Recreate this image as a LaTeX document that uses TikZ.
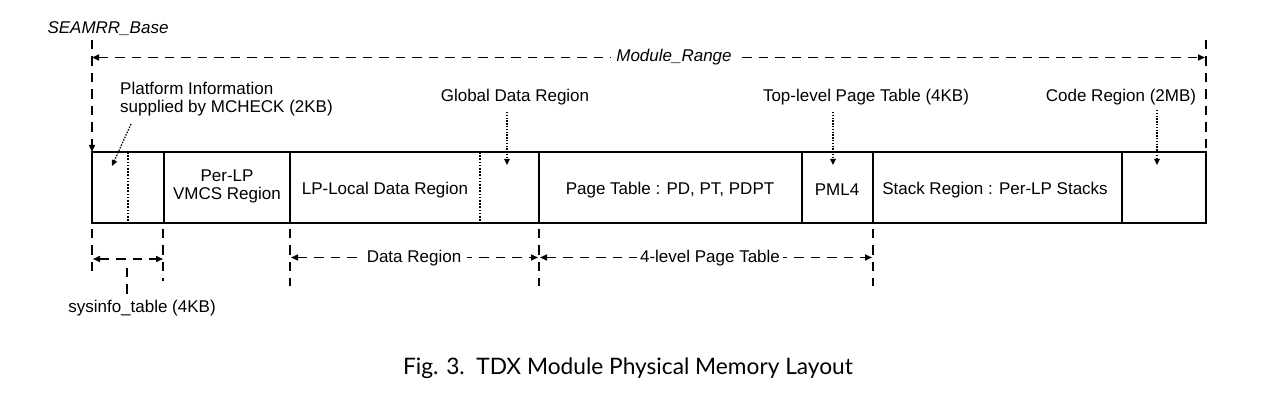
\documentclass[tikz,border=0pt]{standalone}
\usepackage{fontspec}
\setmainfont{Liberation Sans}
\newfontfamily\capfont{Lato}
\usetikzlibrary{arrows.meta}
\begin{document}
\begin{tikzpicture}[x=1pt,y=-1pt,
  lbl/.style={font=\fontsize{17}{18}\selectfont, inner sep=0pt},
  ilbl/.style={font=\fontsize{17}{18}\selectfont\itshape, inner sep=0pt},
  box/.style={draw, line width=2.4pt},
  dimline/.style={line width=1.5pt, dash pattern=on 9.5pt off 7pt},
  tip/.style={-{Triangle[length=7pt,width=6pt]}},
  tips/.style={{Triangle[length=7pt,width=6pt]}-{Triangle[length=7pt,width=6pt]}},
  dotarrow/.style={line width=1.2pt, dash pattern=on 1.5pt off 1.3pt, -{Triangle[length=6pt,width=5.5pt]}},
  dotline/.style={line width=1.2pt, dash pattern=on 1.6pt off 1.6pt}
]
\useasboundingbox (0,0) rectangle (1266,403);

% ---- memory box
\draw[box] (92,152) rectangle (1206,223);
\foreach \xx in {164,290,539,802,873,1122} \draw[box] (\xx,152) -- (\xx,223);
\draw[dotline] (128,152) -- (128,223);
\draw[dotline] (480,152) -- (480,223);

% ---- cell texts
\node[lbl, align=center] (vmcs) at (227,186.5) {Per-LP\\VMCS Region};
\node[lbl] (lpl) at (385,190) {LP-Local Data Region};
\node[lbl] (pt) at (670,190) {Page Table : PD, PT, PDPT};
\node[lbl] (pml) at (837,190) {PML4};
\node[lbl] (stk) at (995,190) {Stack Region : Per-LP Stacks};

% ---- top labels
\node[ilbl] (base) at (108,28.5) {SEAMRR\_Base};
\node[lbl, align=left, anchor=west] (plat) at (120,99.5) {Platform Information\\supplied by MCHECK (2KB)};
\node[lbl] (glob) at (515,97.5) {Global Data Region};
\node[lbl] (top) at (866,97.5) {Top-level Page Table (4KB)};
\node[lbl] (code) at (1121,97.5) {Code Region (2MB)};

% ---- coordinates
\coordinate (baseTop) at (92,40);
\coordinate (baseBot) at (92,152);
\coordinate (endTop) at (1206,40);
\coordinate (endBot) at (1206,152);
\coordinate (mrL) at (92,57.5);
\coordinate (mrR) at (1205,57.5);
\coordinate (platS) at (131,124);
\coordinate (platE) at (112,166);
\coordinate (globS) at (507,112);
\coordinate (globE) at (507,165);
\coordinate (topS) at (833,112);
\coordinate (topE) at (833,165);
\coordinate (codeS) at (1157,110);
\coordinate (codeE) at (1157,165);

% ---- top dimensions
\draw[dimline, tip] (baseTop) -- (baseBot);
\draw[dimline] (endTop) -- (endBot);
\draw[dimline, tips] (mrL) -- (mrR);
\node[ilbl, fill=white, inner xsep=5pt, inner ysep=2pt] (mr) at (674,57) {Module\_Range};

% ---- dotted pointers
\draw[dotarrow] (platS) -- (platE);
\draw[dotarrow] (globS) -- (globE);
\draw[dotarrow] (topS) -- (topE);
\draw[dotarrow] (codeS) -- (codeE);

% ---- bottom extension lines
\coordinate (e1a) at (92,229);  \coordinate (e1b) at (92,278);
\coordinate (e2a) at (163,229); \coordinate (e2b) at (163,281);
\coordinate (e3a) at (290,229); \coordinate (e3b) at (290,286);
\coordinate (e4a) at (539,229); \coordinate (e4b) at (539,286);
\coordinate (e5a) at (873,229); \coordinate (e5b) at (873,286);
\foreach \a/\b in {e1a/e1b,e2a/e2b,e3a/e3b,e4a/e4b,e5a/e5b} \draw[dimline] (\a) -- (\b);

% ---- bottom dimensions
\coordinate (s1) at (93,259);
\coordinate (s2) at (163,259);
\draw[dimline, tips] (s1) -- (s2);
\coordinate (sp1) at (127,268);
\node[lbl] (sys) at (142,308.5) {sysinfo\_table (4KB)};
\draw[dimline] (sp1) -- (sys.north -| sp1);

\coordinate (d1) at (291,257.5);
\coordinate (d2) at (538,257.5);
\draw[dimline, tips] (d1) -- (d2);
\node[lbl, fill=white, inner xsep=6pt, inner ysep=2pt] (dr) at (414,258) {Data Region};

\coordinate (p1) at (540,257.5);
\coordinate (p2) at (872,257.5);
\draw[dimline, tips] (p1) -- (p2);
\node[lbl, fill=white, inner xsep=3pt, inner ysep=2pt] (plt) at (710,258) {4-level Page Table};

% ---- caption
\node[font=\capfont\fontsize{22.7}{26}\selectfont, inner sep=0pt] (cap) at (628,368) {Fig. 3.\ \ TDX Module Physical Memory Layout};
\end{tikzpicture}
\end{document}
